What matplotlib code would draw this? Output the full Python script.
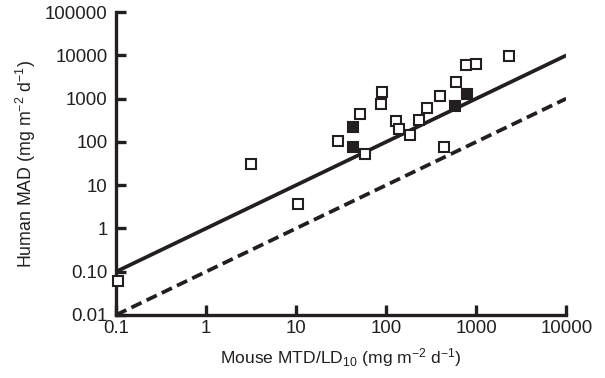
"""Human MAD vs mouse MTD/LD10 log-log scatter."""

import numpy as np
import matplotlib
matplotlib.use("Agg")
import matplotlib.pyplot as plt

# ---------------------------------------------------------------------------
# Data
# ---------------------------------------------------------------------------

OPEN_X = [0.105, 3.14, 10.35, 28.8, 51.4, 57.9, 87.4, 88.7, 130, 138,
          184.6, 232, 283, 394, 437, 590, 770, 993, 2307]
OPEN_Y = [0.061, 30.7, 3.72, 104, 438, 52, 759, 1436, 297, 198,
          143, 318, 593, 1143, 76, 2366, 5848, 6166, 9730]

FILLED_X = [43, 43, 580, 780]
FILLED_Y = [223, 77, 671, 1291]

LINE_X = [0.1, 10000]
SOLID_FACTOR = 1.0    # human = mouse
DASHED_FACTOR = 0.1   # human = mouse / 10

X_TICKS = [0.1, 1, 10, 100, 1000, 10000]
X_LABELS = ["0.1", "1", "10", "100", "1000", "10000"]
Y_TICKS = [0.01, 0.1, 1, 10, 100, 1000, 10000, 100000]
Y_LABELS = ["0.01", "0.10", "1", "10", "100", "1000", "10000", "100000"]

INK = "#231f20"

plt.rcParams["font.family"] = ["Liberation Sans", "DejaVu Sans"]
plt.rcParams["mathtext.default"] = "regular"


def main():
    fig = plt.figure(figsize=(6.05, 3.78), dpi=100)
    ax = fig.add_axes([0.192, 0.167, 0.744, 0.801])

    lx = np.array(LINE_X, dtype=float)
    ax.plot(lx, lx * SOLID_FACTOR, color=INK, lw=2.7, solid_capstyle="butt", zorder=2)
    ax.plot(lx, lx * DASHED_FACTOR, color=INK, lw=2.7, dashes=(3.0, 1.5), zorder=2)

    ax.plot(OPEN_X, OPEN_Y, "s", ms=6.8, mfc="white", mec=INK, mew=1.5,
            linestyle="none", zorder=3, clip_on=False)
    ax.plot(FILLED_X, FILLED_Y, "s", ms=6.8, mfc=INK, mec=INK, mew=1.5,
            linestyle="none", zorder=3)

    ax.set_xscale("log")
    ax.set_yscale("log")
    ax.set_xlim(0.1, 10000)
    ax.set_ylim(0.01, 100000)
    ax.set_xticks(X_TICKS)
    ax.set_xticklabels(X_LABELS)
    ax.set_yticks(Y_TICKS)
    ax.set_yticklabels(Y_LABELS)
    ax.minorticks_off()

    for side in ("top", "right"):
        ax.spines[side].set_visible(False)
    for side in ("left", "bottom"):
        ax.spines[side].set_linewidth(2.4)
        ax.spines[side].set_color(INK)

    ax.tick_params(direction="in", length=7, width=2.4, color=INK,
                   labelsize=13.4, labelcolor=INK)
    ax.tick_params(axis="x", pad=4)
    ax.tick_params(axis="y", pad=6)

    ax.set_xlabel("Mouse MTD/LD$_{10}$ (mg m$^{-2}$ d$^{-1}$)", fontsize=12.6,
                  color=INK, labelpad=6)
    ax.set_ylabel("Human MAD (mg m$^{-2}$ d$^{-1}$)", fontsize=12.8,
                  color=INK, labelpad=5)

    fig.savefig("out.png", dpi=100, facecolor="white")
    plt.close(fig)


if __name__ == "__main__":
    main()
